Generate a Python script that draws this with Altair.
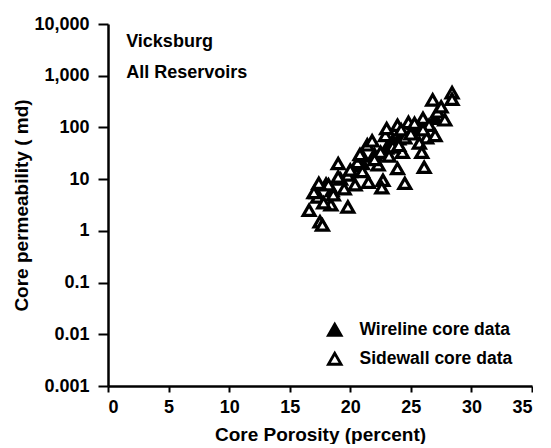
import altair as alt
import pandas as pd

# Sidewall core data (open triangles)
side_phi = [28.4, 28.4, 26.8, 27.2, 27.8, 26.0, 24.8, 23.9, 26.3, 25.7, 24.5, 26.1, 25.9, 24.3,
            23.5, 22.9, 22.5, 21.4, 22.3, 23.9, 24.5, 22.7, 21.5, 22.6, 20.4, 19.8, 19.0, 19.0,
            20.6, 18.2, 17.4, 17.3, 18.4, 19.8, 16.6, 17.5, 17.7, 20.0, 21.0, 21.8, 23.0, 24.2,
            25.3, 26.5, 27.0, 20.8, 18.6, 19.5, 17.0, 21.0, 22.0, 23.2, 24.0, 25.0, 26.0, 27.5, 17.8]
side_k = [470, 350, 340, 200, 140, 150, 125, 110, 63, 50, 63, 17, 33, 33,
          42, 70, 33, 46, 19, 16, 8.3, 9.5, 8.7, 6.8, 7.8, 12, 11, 20,
          21, 7.8, 8.3, 4.5, 3.2, 2.9, 2.5, 1.5, 1.3, 15, 28, 55, 95, 90,
          120, 110, 70, 30, 5, 6.5, 5.5, 14, 24, 28, 45, 75, 90, 250, 3.5]

# Wireline core data (filled triangles)
wire_phi = [17.2, 18.0, 19.2, 20.0, 21.0, 22.0, 23.0, 24.0, 25.0, 26.0, 27.0, 20.5, 23.5, 25.5, 18.5]
wire_k = [5.5, 8, 10, 14, 20, 30, 40, 60, 80, 120, 150, 18, 55, 100, 6]

types = ["Wireline core data", "Sidewall core data"]

ann_text = ["Vicksburg", "All Reservoirs"]
ann_x = [1.5, 1.5]
ann_y = [4500, 1120]

y_ticks = [0.001, 0.01, 0.1, 1, 10, 100, 1000, 10000]
x_ticks = [0, 5, 10, 15, 20, 25, 30, 35]

df = pd.concat([
    pd.DataFrame({"phi": wire_phi, "k": wire_k, "type": types[0], "order": 0}),
    pd.DataFrame({"phi": side_phi, "k": side_k, "type": types[1], "order": 1}),
])
ann = pd.DataFrame({"text": ann_text, "x": ann_x, "y": ann_y})

FONT = "Liberation Sans"

xscale = alt.Scale(domain=[0, 35], nice=False, zero=False)
yscale = alt.Scale(type="log", domain=[0.001, 10000], nice=False)

points = alt.Chart(df).mark_point(
    shape="triangle-up", size=140, strokeWidth=3.2, opacity=1, filled=True, stroke="black"
).encode(
    x=alt.X("phi:Q", scale=xscale, title="Core Porosity (percent)",
            axis=alt.Axis(values=x_ticks, tickSize=6, labelPadding=6, titlePadding=9)),
    y=alt.Y("k:Q", scale=yscale, title="Core permeability ( md)",
            axis=alt.Axis(values=y_ticks, tickSize=10, labelPadding=9, titlePadding=2,
                          labelExpr="datum.value >= 1 ? format(datum.value, ',.0f') : toString(datum.value)")),
    fill=alt.Fill("type:N", scale=alt.Scale(domain=types, range=["black", "white"]),
                  legend=alt.Legend(title=None, orient="none", legendX=218, legendY=297,
                                    symbolType="triangle-up", symbolSize=160,
                                    symbolStrokeColor="black", symbolStrokeWidth=2.8,
                                    labelFont=FONT, labelFontSize=17.5, labelFontWeight="bold",
                                    labelColor="black", rowPadding=6, labelOffset=16)),
    order=alt.Order("order:Q"),
)

texts = alt.Chart(ann).mark_text(
    align="left", baseline="middle", font=FONT, fontSize=18, fontWeight="bold", color="black"
).encode(
    x=alt.X("x:Q", scale=xscale),
    y=alt.Y("y:Q", scale=yscale),
    text="text:N",
)

chart = alt.layer(points, texts).properties(
    width=424, height=362, background="white",
    padding={"left": 4, "top": 7, "right": 0, "bottom": 0},
).configure_view(stroke=None).configure_axis(
    grid=False, domainColor="black", domainWidth=2.5, tickColor="black", tickWidth=2,
    labelFont=FONT, labelFontSize=18, labelFontWeight="bold", labelColor="black",
    titleFont=FONT, titleFontSize=19, titleFontWeight="bold", titleColor="black",
)

chart.save("out.html", embed_options={"renderer": "svg", "actions": False})
